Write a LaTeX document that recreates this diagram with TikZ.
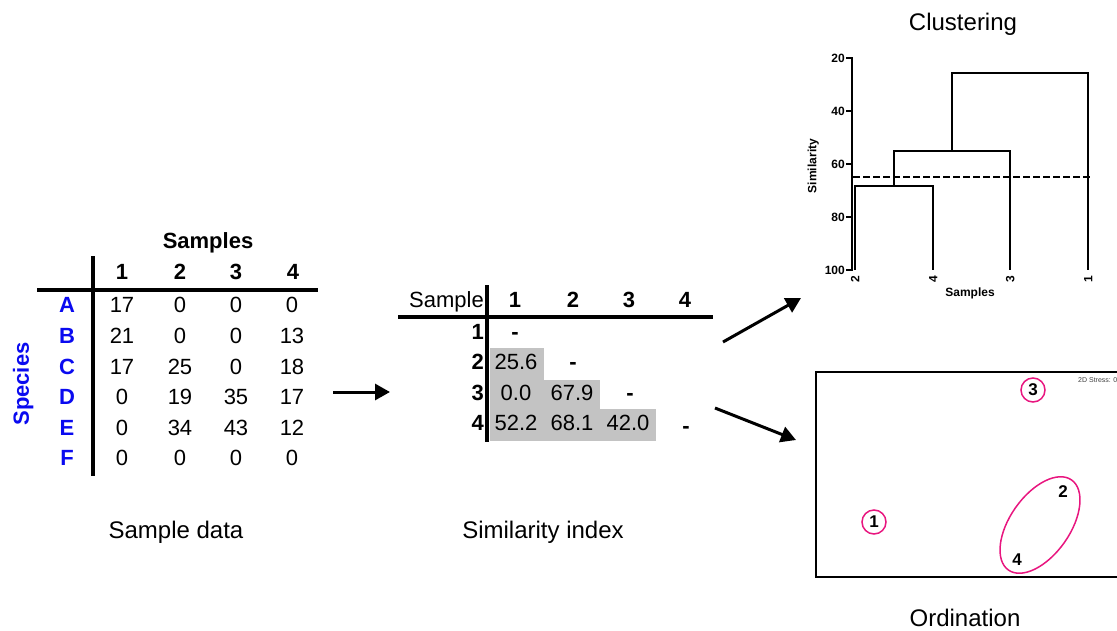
\documentclass[tikz,border=0pt]{standalone}
\usepackage{fontspec}
\setmainfont{Liberation Sans}
\usetikzlibrary{positioning, arrows.meta, shapes.geometric}
\definecolor{speciesBlue}{HTML}{0A0AF0}
\definecolor{cellGray}{HTML}{C3C3C3}
\definecolor{groupPink}{HTML}{E8167F}
\tikzset{
  cell/.style={font=\fontsize{22}{26}\selectfont, inner sep=0pt,
    text height=15.7pt, text depth=0pt},
  headcell/.style={cell, font=\fontsize{22}{26}\selectfont\bfseries},
  rowlabel/.style={headcell, text=speciesBlue},
  caption/.style={font=\fontsize{24}{28}\selectfont, inner sep=0pt,
    text height=17.2pt, text depth=0pt},
  tablerule/.style={line width=4pt},
  bigarrow/.style={-{Triangle[length=15pt, width=16pt]}, line width=3pt},
  branch/.style={line width=2pt},
  axislabel/.style={font=\fontsize{12}{14}\selectfont\bfseries, inner sep=0pt,
    text height=8.6pt, text depth=0pt},
  sitering/.style={draw=groupPink, circle, line width=1.5pt, minimum size=24pt,
    inner sep=0pt, font=\fontsize{17}{20}\selectfont\bfseries},
  sitelabel/.style={inner sep=0pt, font=\fontsize{17}{20}\selectfont\bfseries},
}

\begin{document}
\begin{tikzpicture}[x=1pt, y=-1pt]
  \useasboundingbox (0,0) rectangle (1117,630);

  % === Sample data table ===
  \node[headcell] (samplesHead) at (208,241) {Samples};
  \foreach \c/\x in {1/122, 2/180, 3/236, 4/293}
    \node[headcell] (col\c) at (\x,272) {\c};
  \draw[tablerule] (37,290) -- (318,290);
  \draw[tablerule] (93,256) -- (93,476);
  \node[rowlabel, rotate=90] (species) at (21,384) {Species};

  \foreach \r/\y/\a/\b/\cc/\d in {A/305/17/0/0/0, B/336/21/0/0/13,
      C/367/17/25/0/18, D/397/0/19/35/17, E/428/0/34/43/12, F/458/0/0/0/0} {
    \node[rowlabel] (row\r) at (67,\y) {\r};
    \node[cell] (v\r1) at (122,\y) {\a};
    \node[cell] (v\r2) at (180,\y) {\b};
    \node[cell] (v\r3) at (236,\y) {\cc};
    \node[cell] (v\r4) at (292,\y) {\d};
  }
  \node[caption] (dataCap) at (176,530) {Sample data};

  % === Similarity index table ===
  \fill[cellGray] (490,348) rectangle (544,380);
  \fill[cellGray] (490,380) rectangle (600,409);
  \fill[cellGray] (490,409) rectangle (656,441);

  \node[cell, anchor=east] (sampleHead) at (484,300) {Sample};
  \foreach \c/\x in {1/515, 2/573, 3/629, 4/685}
    \node[headcell] (scol\c) at (\x,300) {\c};
  \draw[tablerule] (398,317) -- (713,317);
  \draw[tablerule] (487,285) -- (487,442);
  \foreach \r/\y in {1/332, 2/362, 3/393, 4/423}
    \node[headcell, anchor=east] (srow\r) at (484,\y) {\r};

  \node[headcell] (s11) at (515,332) {-};
  \node[cell] (s21) at (516,362) {25.6};
  \node[headcell] (s22) at (573,362) {-};
  \node[cell] (s31) at (516,393) {0.0};
  \node[cell] (s32) at (572,393) {67.9};
  \node[headcell] (s33) at (630,393) {-};
  \node[cell] (s41) at (516,423) {52.2};
  \node[cell] (s42) at (572,423) {68.1};
  \node[cell] (s43) at (628,423) {42.0};
  \node[headcell] (s44) at (686,426) {-};
  \node[caption] (simCap) at (543,530) {Similarity index};

  % === Arrows between panels ===
  \coordinate (dataOut) at (333,392);
  \coordinate (simIn) at (390,392);
  \coordinate (clusOutA) at (723,342);
  \coordinate (clusIn) at (801,298);
  \coordinate (ordOutA) at (715,408);
  \coordinate (ordIn) at (796,440);
  \draw[bigarrow] (dataOut) -- (simIn);
  \draw[bigarrow] (clusOutA) -- (clusIn);
  \draw[bigarrow] (ordOutA) -- (ordIn);

  % === Clustering: dendrogram ===
  \node[caption] (clusCap) at (963,22) {Clustering};
  \draw[branch] (852,57) -- (852,271);
  \foreach \v/\y in {20/58, 40/111, 60/164, 80/217, 100/270} {
    \draw[branch] (846,\y) -- (852,\y);
    \node[axislabel, anchor=east] (tick\v) at (845,\y) {\v};
  }
  \node[axislabel, rotate=90] (simAxis) at (812,166) {Similarity};

  \draw[branch] (855,270) -- (855,186) -- (933,186) -- (933,270);
  \draw[branch] (894,186) -- (894,151) -- (1010,151) -- (1010,270);
  \draw[branch] (952,151) -- (952,73) -- (1088,73) -- (1088,270);
  \draw[line width=2.5pt, dash pattern=on 7pt off 3pt] (853,177) -- (1092,177);

  \foreach \s/\x in {2/855, 4/933, 3/1010, 1/1088}
    \node[axislabel, rotate=90] (leaf\s) at (\x,279) {\s};
  \node[axislabel] (leafAxis) at (970,292) {Samples};

  % === Ordination: nMDS plot ===
  \draw[line width=1.5pt] (816,372) rectangle (1130,577);
  \node[font=\fontsize{7}{8}\selectfont, inner sep=0pt, anchor=west, text=black!75]
    (stress) at (1078,380) {2D Stress: 0};
  \node[sitering] (site3) at (1033,390) {3};
  \node[sitering] (site1) at (874,522) {1};
  \node[sitelabel] (site2) at (1063,492) {2};
  \node[sitelabel] (site4) at (1017,560) {4};
  \node[draw=groupPink, ellipse, line width=1.5pt, minimum width=110pt,
    minimum height=60pt, rotate=55] (group24) at (1040,525) {};
  \node[caption] (ordCap) at (965,618) {Ordination};

\end{tikzpicture}
\end{document}
